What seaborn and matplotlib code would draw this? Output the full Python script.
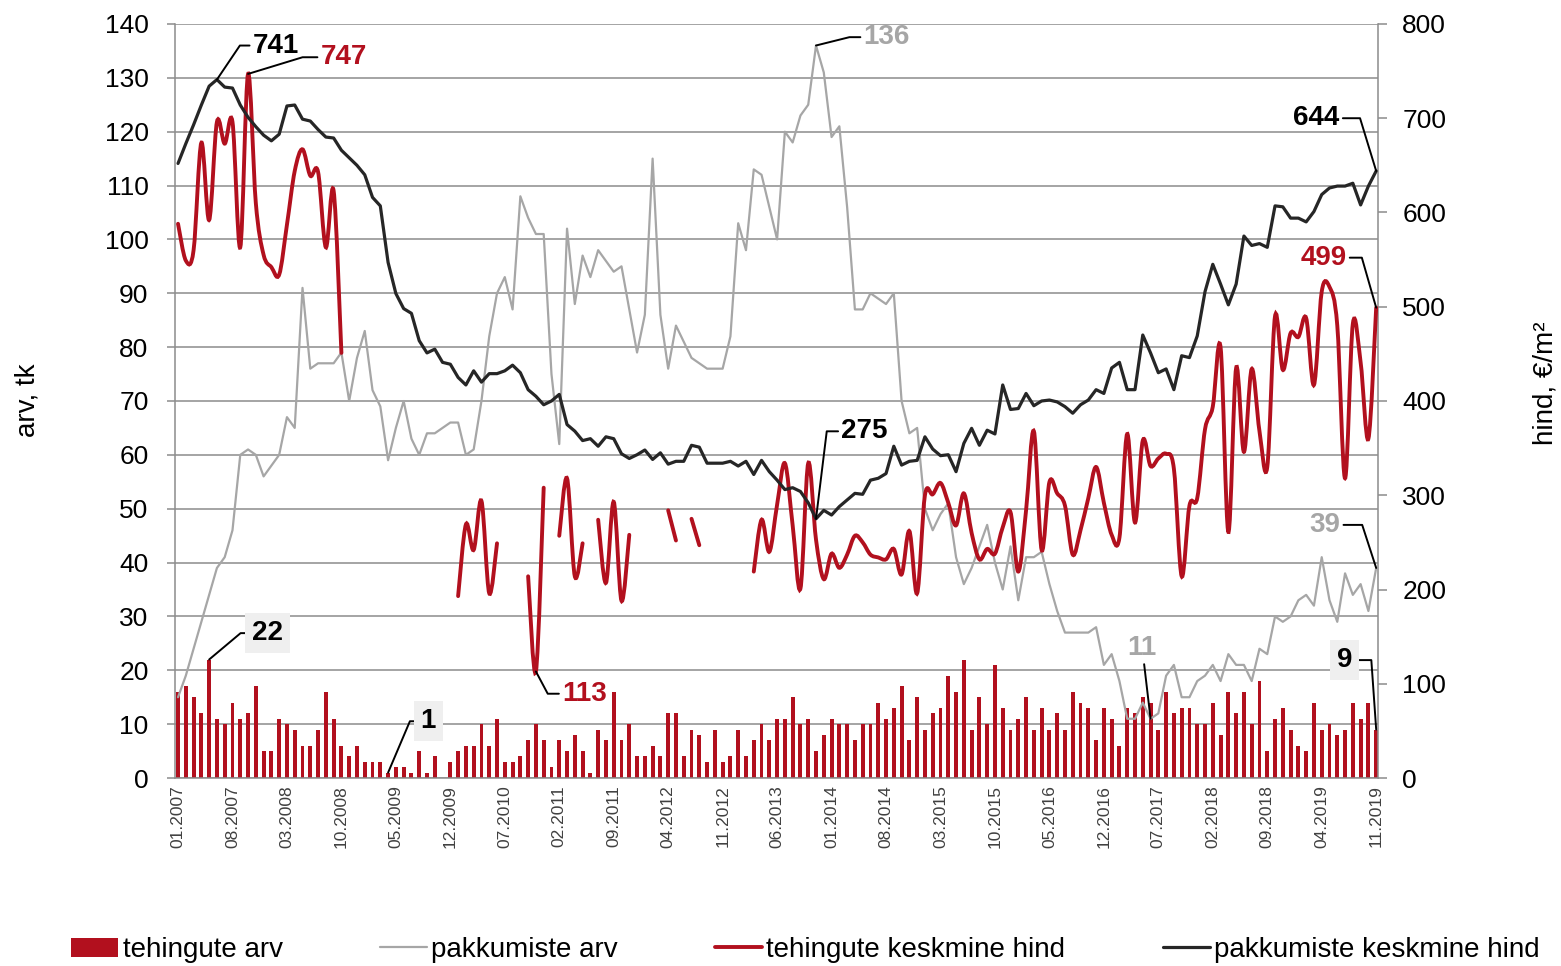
import numpy as np
import pandas as pd
import seaborn as sns
import matplotlib.pyplot as plt
from matplotlib.path import Path
from matplotlib.patches import PathPatch, Patch
from matplotlib.lines import Line2D


tick_labels = ["01.2007", "08.2007", "03.2008", "10.2008", "05.2009", "12.2009",
               "07.2010", "02.2011", "09.2011", "04.2012", "11.2012", "06.2013",
               "01.2014", "08.2014", "03.2015", "10.2015", "05.2016", "12.2016",
               "07.2017", "02.2018", "09.2018", "04.2019", "11.2019"]

# tehingute arv (bars, left axis)
tehingute_arv = [16, 17, 15, 12, 22, 11, 10, 14, 11, 12, 17, 5, 5, 11, 10, 9, 6, 6, 9, 16, 11, 6, 4, 6, 3, 3,
                 3, 1, 2, 2, 1, 5, 1, 4, 0, 3, 5, 6, 6, 10, 6, 11, 3, 3, 4, 7, 10, 7, 2, 7, 5, 8,
                 5, 1, 9, 7, 16, 7, 10, 4, 4, 6, 4, 12, 12, 4, 9, 8, 3, 9, 3, 4, 9, 4, 7, 10, 7, 11,
                 11, 15, 10, 11, 5, 8, 11, 10, 10, 7, 10, 10, 14, 11, 13, 17, 7, 15, 9, 12, 13, 19, 16, 22, 9, 15,
                 10, 21, 13, 9, 11, 15, 9, 13, 9, 12, 9, 16, 14, 13, 7, 13, 11, 6, 13, 12, 15, 14, 9, 16, 12,
                 13, 13, 10, 10, 14, 8, 16, 12, 16, 10, 18, 5, 11, 13, 9, 6, 5, 14, 9, 10, 8, 9, 14, 11, 14, 9]

# pakkumiste arv (grey line, left axis)
pakkumiste_arv = [15, 19, 24, 29, 34, 39, 41, 46, 60, 61, 60, 56, 58, 60, 67, 65, 91, 76, 77, 77, 77, 79, 70, 78, 83, 72,
                  69, 59, 65, 70, 63, 60, 64, 64, 65, 66, 66, 60, 61, 70, 82, 90, 93, 87, 108, 104, 101, 101, 75, 62, 102, 88,
                  97, 93, 98, 96, 94, 95, 87, 79, 86, 115, 86, 76, 84, 81, 78, 77, 76, 76, 76, 82, 103, 98, 113, 112, 106, 100,
                  120, 118, 123, 125, 136, 131, 119, 121, 106, 87, 87, 90, 89, 88, 90, 70, 64, 65, 50, 46, 49, 51, 41, 36, 39, 43,
                  47, 40, 35, 43, 33, 41, 41, 42, 36, 31, 27, 27, 27, 27, 28, 21, 23, 18, 11, 11, 14, 11, 12, 19, 21,
                  15, 15, 18, 19, 21, 18, 23, 21, 21, 18, 24, 23, 30, 29, 30, 33, 34, 32, 41, 33, 29, 38, 34, 36, 31, 39]

# tehingute keskmine hind (red smoothed line, right axis), None = no data
tehingute_hind = [588, 549, 560, 674, 592, 696, 673, 696, 563, 747, 610, 555, 542, 534, 587, 644, 667, 639, 643, 563, 623, 451,
                  None, None, None, None, None, None, None, None, None, None, None, None, None, None,
                  193, 269, 242, 294, 196, 249, None, None, None, 214, 113, 308, None,
                  257, 318, 214, 249, None, 274, 207, 293, 188, 258, None, None, None, None,
                  284, 252, None, 275, 247, None, None, None, None, None, None,
                  219, 274, 240, 290,
                  334, 268, 201, 334, 253, 211, 238, 223, 237, 257, 250, 237, 234, 232, 243, 216, 262, 196, 300, 301, 313, 292, 268, 302, 260, 232,
                  243, 238, 266, 282, 219, 284, 368, 242, 314, 302, 289, 237, 263, 297, 330, 292, 258, 255, 365, 271, 358, 331, 339, 344, 328,
                  214, 289, 297, 370, 394, 457, 261, 435, 346, 434, 368, 330, 490, 433, 472, 468, 488, 417, 516, 521, 480, 318, 482, 441, 360, 499]

# pakkumiste keskmine hind (black line, right axis)
pakkumiste_hind = [652, 673, 693, 714, 734, 741, 733, 732, 714, 701, 691, 682, 676, 683, 713, 714, 699, 697, 688, 680, 679, 666, 658, 650, 640, 616,
                   607, 547, 514, 498, 493, 464, 451, 455, 441, 439, 425, 417, 432, 420, 429, 429, 432, 438, 430, 412, 405, 396, 400, 407, 375, 368,
                   358, 360, 352, 362, 360, 344, 339, 343, 348, 338, 345, 333, 336, 336, 353, 351, 334, 334, 334, 336, 331, 336, 322, 337, 325, 316,
                   306, 308, 304, 292, 275, 284, 279, 288, 295, 302, 301, 316, 318, 323, 352, 332, 336, 337, 362, 349, 342, 343, 325, 355, 371, 353,
                   369, 365, 417, 391, 392, 408, 395, 400, 401, 399, 394, 387, 396, 401, 412, 408, 435, 441, 412, 412, 470, 451, 430, 434, 412,
                   448, 446, 469, 516, 545, 524, 502, 524, 575, 565, 567, 563, 607, 606, 594, 594, 590, 601, 619, 626, 628, 628, 631, 608, 628, 644]

RED = "#b2101e"
GREY = "#a6a6a6"
BLACK = "#262626"
AXIS = "#8c8c8c"


def smooth_path(x, y):
    # excel-like smoothed line: bezier segments with catmull-rom handles
    x = np.asarray(x, float)
    y = np.asarray(y, float)
    idx = np.flatnonzero(~np.isnan(y))
    runs = np.split(idx, np.flatnonzero(np.diff(idx) > 1) + 1)
    verts, codes = [], []
    for r in runs:
        px, py = x[r], y[r]
        verts.append((px[0], py[0]))
        codes.append(Path.MOVETO)
        for k in range(len(r) - 1):
            x0, y0 = (px[k - 1], py[k - 1]) if k > 0 else (px[k], py[k])
            x3, y3 = (px[k + 2], py[k + 2]) if k + 2 < len(r) else (px[k + 1], py[k + 1])
            c1 = (px[k] + (px[k + 1] - x0) / 6, py[k] + (py[k + 1] - y0) / 6)
            c2 = (px[k + 1] - (x3 - px[k]) / 6, py[k + 1] - (y3 - py[k]) / 6)
            verts += [c1, c2, (px[k + 1], py[k + 1])]
            codes += [Path.CURVE4] * 3
    return Path(verts, codes)


sns.set_theme(style="white")
plt.rcParams["font.family"] = ["Liberation Sans", "DejaVu Sans"]

n = len(tehingute_arv)
df = pd.DataFrame({"kuu": np.arange(n),
                   "tehingute_arv": tehingute_arv,
                   "pakkumiste_arv": pakkumiste_arv,
                   "tehingute_hind": np.array(tehingute_hind, dtype=float),
                   "pakkumiste_hind": pakkumiste_hind})

fig, ax = plt.subplots(figsize=(15.61, 9.66), dpi=100)
fig.subplots_adjust(left=0.1121, right=0.8828, top=0.9752, bottom=0.1946)
ax2 = ax.twinx()

sns.barplot(data=df, x="kuu", y="tehingute_arv", color=RED, saturation=1,
            width=0.5, ax=ax, zorder=2, linewidth=0)
sns.lineplot(data=df, x="kuu", y="pakkumiste_arv", color=GREY, lw=1.6, ax=ax, zorder=3)

ax2.add_patch(PathPatch(smooth_path(df["kuu"], df["tehingute_hind"]), fill=False,
                        edgecolor=RED, lw=2.8, capstyle="round", zorder=3))
sns.lineplot(data=df, x="kuu", y="pakkumiste_hind", color=BLACK, lw=2.3, ax=ax2, zorder=4)

ax.set_xlim(-0.39, 154.24)
ax.set_ylim(0, 140)
ax2.set_ylim(0, 800)
ax.set_yticks(range(0, 141, 10))
ax2.set_yticks(range(0, 801, 100))
ax.set_xticks(range(0, n, 7), tick_labels)
ax.set_xlabel("")
ax.set_ylabel("")
ax2.set_ylabel("")

ax.grid(axis="y", color=AXIS, lw=1.1)
ax.grid(axis="x", visible=False)
ax.set_axisbelow(True)
for a in (ax, ax2):
    for s in a.spines.values():
        s.set_visible(False)
ax.spines["left"].set_visible(True)
ax.spines["bottom"].set_visible(True)
ax2.spines["right"].set_visible(True)
for s in (ax.spines["left"], ax.spines["bottom"], ax2.spines["right"]):
    s.set_color(AXIS)
    s.set_linewidth(1.1)

ax.tick_params(axis="y", length=6, width=1.1, color=AXIS, labelsize=19, labelcolor="black",
               pad=13, left=True)
ax.tick_params(axis="x", length=0, labelsize=12.5, labelcolor="#404040", rotation=90, pad=5)
ax2.tick_params(axis="y", length=6.5, width=1.1, color=AXIS, labelsize=19, labelcolor="black",
                pad=11, right=True)

fig.text(27 / 1561, 1 - 400 / 966, "arv, tk", rotation=90, ha="center", va="center",
         fontsize=20, color="black")
fig.text(1545 / 1561, 1 - 383 / 966, "hind, €/m²", rotation=90, ha="center", va="center",
         fontsize=20, color="black")

# value callouts
left = ax.transData
box = dict(boxstyle="square,pad=0.25", fc="#efefef", ec="none")
callouts = [
    ("741", (5, 741), ax2.transData, (42.5, 24.5), "black", 56, None),
    ("747", (9, 747), ax2.transData, (69, 12), RED, 17, None),
    ("22", (4, 22), left, (42, 19), "black", 40, box),
    ("1", (27, 1), left, (29, 37), "black", 67, box),
    ("113", (46, 113), ax2.transData, (35, -16), RED, -62, None),
    ("136", (82, 136), left, (51, 6), GREY, 14, None),
    ("275", (82, 275), ax2.transData, (35, 63), "black", 83, None),
    ("644", (154, 644), ax2.transData, (-43, 38), "black", 107, None),
    ("499", (154, 499), ax2.transData, (-38, 36), RED, 106, None),
    ("39", (154, 39), left, (-37, 31), GREY, 108, None),
    ("9", (154, 9), left, (-23, 50), "black", 94, box),
]
for txt, xy, trans, off, col, ang, bb in callouts:
    ax2.annotate(txt, xy=xy, xycoords=trans, xytext=off, textcoords="offset points",
                 ha="center", va="center", fontsize=20, fontweight="bold", color=col,
                 bbox=bb, zorder=6,
                 arrowprops=dict(arrowstyle="-", color="black", lw=1.4, shrinkA=0, shrinkB=0,
                                 connectionstyle=f"angle,angleA=0,angleB={ang},rad=0"))
ax2.annotate("11", xy=(125, 11), xycoords=left, xytext=(-6, 51), textcoords="offset points",
             ha="center", va="center", fontsize=20, fontweight="bold", color=GREY, zorder=6,
             arrowprops=dict(arrowstyle="-", color="black", lw=1.4, shrinkA=0, shrinkB=0))

handles = [Patch(fc=RED, ec="none"),
           Line2D([], [], color=GREY, lw=1.6),
           Line2D([], [], color=RED, lw=2.8),
           Line2D([], [], color=BLACK, lw=2.3)]
labels = ["tehingute arv", "pakkumiste arv", "tehingute keskmine hind", "pakkumiste keskmine hind"]
fig.legend(handles, labels, ncol=4, loc="lower center", bbox_to_anchor=(0.516, 0.003),
           frameon=False, fontsize=20, handlelength=1.7, handletextpad=0.15,
           columnspacing=3.5, borderpad=0, borderaxespad=0, labelcolor="black")

fig.savefig("out.png", dpi=100)
